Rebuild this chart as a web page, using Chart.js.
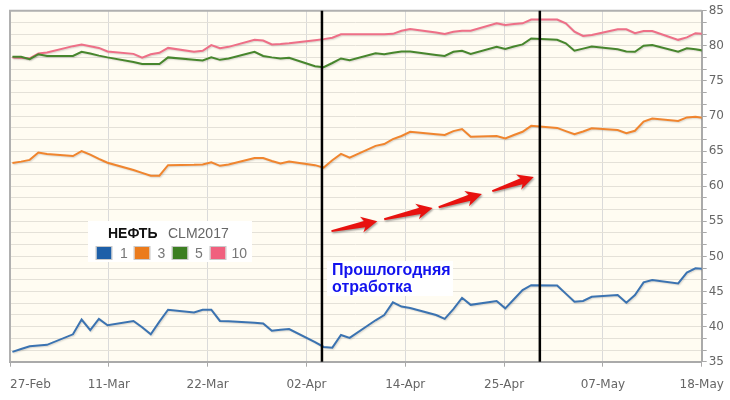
<!DOCTYPE html>
<html>
<head>
<meta charset="utf-8">
<script src="https://cdn.jsdelivr.net/npm/chart.js@4.4.1/dist/chart.umd.min.js"></script>
<style>
  html, body { margin: 0; padding: 0; background: #fff; }
  #wrap { position: relative; width: 730px; height: 400px; }
</style>
</head>
<body>
<div id="wrap"><canvas id="oilChart"></canvas></div>
<script>
// CLM2017 - trading days
const dates = [
  "2017-02-27", "2017-02-28", "2017-03-01", "2017-03-02", "2017-03-03",
  "2017-03-06", "2017-03-07", "2017-03-08", "2017-03-09", "2017-03-10",
  "2017-03-13", "2017-03-14", "2017-03-15", "2017-03-16", "2017-03-17",
  "2017-03-20", "2017-03-21", "2017-03-22", "2017-03-23", "2017-03-24",
  "2017-03-27", "2017-03-28", "2017-03-29", "2017-03-30", "2017-03-31",
  "2017-04-03", "2017-04-04", "2017-04-05", "2017-04-06", "2017-04-07",
  "2017-04-10", "2017-04-11", "2017-04-12", "2017-04-13", "2017-04-14",
  "2017-04-17", "2017-04-18", "2017-04-19", "2017-04-20", "2017-04-21",
  "2017-04-24", "2017-04-25", "2017-04-26", "2017-04-27", "2017-04-28",
  "2017-05-01", "2017-05-02", "2017-05-03", "2017-05-04", "2017-05-05",
  "2017-05-08", "2017-05-09", "2017-05-10", "2017-05-11", "2017-05-12",
  "2017-05-15", "2017-05-16", "2017-05-17", "2017-05-18"
];

const series1 = [
  36.4, 36.8, 37.2, 37.3, 37.4,
  38.9, 41.0, 39.5, 41.1, 40.2,
  40.8, 39.9, 38.9, 40.7, 42.4,
  42.0, 42.4, 42.4, 40.8, 40.75,
  40.55, 40.45, 39.4, 39.55, 39.65,
  37.8, 37.1, 37.0, 38.8, 38.4,
  40.9, 41.65, 43.45, 42.85, 42.65,
  41.65, 41.1, 42.5, 44.1, 43.1,
  43.65, 42.6, 43.9, 45.2, 45.9,
  45.85, 44.7, 43.55, 43.65, 44.25,
  44.5, 43.4, 44.5, 46.3, 46.65,
  46.15, 47.7, 48.3, 48.2
];
const series3 = [
  63.3, 63.5, 63.75, 64.8, 64.6,
  64.3, 65.0, 64.5, 63.9, 63.35,
  62.3, 61.9, 61.5, 61.5, 63.0,
  63.05, 63.1, 63.4, 62.9, 63.1,
  64.0, 64.0, 63.6, 63.25, 63.5,
  63.0, 62.65, 63.7, 64.6, 64.05,
  65.75, 66.0, 66.7, 67.15, 67.75,
  67.4, 67.3, 67.85, 68.15, 67.05,
  67.15, 66.8, 67.3, 67.75, 68.6,
  68.3, 67.85, 67.4, 67.8, 68.25,
  68.0, 67.55, 67.9, 69.2, 69.65,
  69.3, 69.8, 69.9, 69.7
];
const series5 = [
  78.45, 78.45, 78.1, 78.8, 78.55,
  78.55, 79.15, 78.9, 78.6, 78.35,
  77.7, 77.4, 77.4, 77.4, 78.35,
  78.0, 77.9, 78.35, 78.0, 78.2,
  79.15, 78.55, 78.35, 78.2, 78.3,
  77.1, 76.95, 77.55, 78.2, 77.95,
  78.95, 78.8, 79.0, 79.2, 79.2,
  78.7, 78.55, 79.15, 79.3, 78.85,
  79.85, 79.55, 79.9, 80.2, 81.05,
  80.85, 80.35, 79.3, 79.6, 79.9,
  79.5, 79.2, 79.15, 80.0, 80.1,
  79.15, 79.65, 79.5, 79.3
];
const series10 = [
  78.35, 78.3, 78.2, 78.9, 79.05,
  79.95, 80.2, 79.95, 79.7, 79.2,
  78.85, 78.3, 78.8, 79.0, 79.7,
  79.15, 79.3, 80.1, 79.65, 79.85,
  80.85, 80.75, 80.2, 80.25, 80.35,
  80.8, 80.95, 81.15, 81.65, 81.65,
  81.65, 81.65, 81.7, 82.15, 82.4,
  81.9, 81.7, 82.0, 82.15, 82.15,
  83.2, 82.95, 83.1, 83.2, 83.75,
  83.75, 83.2, 82.0, 81.4, 81.55,
  82.35, 82.35, 81.8, 82.1, 82.1,
  80.85, 81.2, 81.8, 81.7
];

const seriesNames = ["1", "3", "5", "10"];
const lineColors = ["#3b73b1", "#f0852e", "#47862d", "#ee6f87"];
const legendColors = ["#1d5fa8", "#eb7b1c", "#3c7f22", "#f0607e"];

const xTickLabels = ["27-Feb", "11-Mar", "22-Mar", "02-Apr", "14-Apr", "25-Apr", "07-May", "18-May"];
const yTickLabels = ["35", "40", "45", "50", "55", "60", "65", "70", "75", "80", "85"];

// vertical marker lines and arrows, in days from 27-Feb / price units
const markerDays = [35.8, 61.0];
const arrows = [
  [36.9, 53.6, 42.2, 55.0],
  [43.0, 55.3, 48.6, 56.9],
  [49.3, 57.0, 54.3, 58.9],
  [55.5, 59.3, 60.3, 61.3]
];
const noteLines = ["Прошлогодняя", "отработка"];

const X_MIN = -0.28, X_MAX = 79.72;
const Y_MIN = 35, Y_MAX = 85, Y_STEP = 5 / 3;

function dayOf(s) {
  return (Date.parse(s) - Date.parse(dates[0])) / 86400000;
}

const allSeries = [series1, series3, series5, series10];
const datasets = allSeries.map((vals, k) => ({
  label: seriesNames[k],
  data: dates.map((d, i) => ({ x: dayOf(d), y: vals[i] })),
  borderColor: lineColors[k],
  borderWidth: 2,
  pointRadius: 0,
  tension: 0,
  fill: false
}));

function drawArrow(ctx, x1, y1, x2, y2) {
  const ang = Math.atan2(y2 - y1, x2 - x1);
  const len = Math.hypot(x2 - x1, y2 - y1);
  ctx.save();
  ctx.translate(x1, y1);
  ctx.rotate(ang);
  ctx.beginPath();
  ctx.moveTo(0, -1);
  ctx.lineTo(len - 13, -3.2);
  ctx.lineTo(len - 16, -8);
  ctx.lineTo(len, 0);
  ctx.lineTo(len - 16, 8);
  ctx.lineTo(len - 13, 3.2);
  ctx.lineTo(0, 1);
  ctx.closePath();
  ctx.shadowColor = "rgba(0,0,0,0.35)";
  ctx.shadowOffsetX = 1;
  ctx.shadowOffsetY = 1.5;
  ctx.shadowBlur = 2;
  ctx.fillStyle = "#e8120f";
  ctx.fill();
  ctx.restore();
}

const overlayPlugin = {
  id: "overlay",
  beforeDraw(chart) {
    const { ctx, chartArea: a } = chart;
    ctx.save();
    ctx.fillStyle = "#fffcf2";
    ctx.fillRect(a.left, a.top, a.right - a.left, a.bottom - a.top);
    ctx.restore();
  },
  beforeDatasetDraw(chart) {
    const ctx = chart.ctx;
    ctx.save();
    ctx.shadowColor = "rgba(0,0,0,0.15)";
    ctx.shadowOffsetX = 1;
    ctx.shadowOffsetY = 1;
    ctx.shadowBlur = 1.5;
  },
  afterDatasetDraw(chart) {
    chart.ctx.restore();
  },
  afterDatasetsDraw(chart) {
    const { ctx, chartArea: a, scales } = chart;
    const xs = scales.x, ys = scales.y;
    ctx.save();

    // frame top / left
    ctx.strokeStyle = "#b0b0b0";
    ctx.lineWidth = 2;
    ctx.beginPath();
    ctx.moveTo(a.left, a.bottom);
    ctx.lineTo(a.left, a.top);
    ctx.lineTo(a.right, a.top);
    ctx.stroke();

    // black marker lines
    ctx.strokeStyle = "#000";
    ctx.lineWidth = 2.5;
    markerDays.forEach(d => {
      const x = xs.getPixelForValue(d);
      ctx.beginPath();
      ctx.moveTo(x, a.top);
      ctx.lineTo(x, a.bottom);
      ctx.stroke();
    });

    // arrows
    arrows.forEach(r => {
      drawArrow(ctx,
        xs.getPixelForValue(r[0]), ys.getPixelForValue(r[1]),
        xs.getPixelForValue(r[2]), ys.getPixelForValue(r[3]));
    });

    // legend box
    ctx.fillStyle = "#fff";
    ctx.fillRect(88, 221, 164, 41);
    ctx.textBaseline = "alphabetic";
    ctx.textAlign = "left";
    ctx.fillStyle = "#111";
    ctx.font = "bold 14px 'Liberation Sans', Arial, sans-serif";
    ctx.fillText("НЕФТЬ", 108, 237.5);
    ctx.fillStyle = "#666";
    ctx.font = "14px 'Liberation Sans', Arial, sans-serif";
    ctx.fillText("CLM2017", 168, 237.5);
    const boxX = [96.5, 134.5, 172.5, 210.5];
    const numX = [120, 157.5, 195, 231.5];
    seriesNames.forEach((n, k) => {
      ctx.fillStyle = legendColors[k];
      ctx.fillRect(boxX[k], 247, 15, 12);
      ctx.strokeStyle = "#c8c8c8";
      ctx.lineWidth = 1;
      ctx.strokeRect(boxX[k] - 0.5, 246.5, 16, 13);
      ctx.fillStyle = "#777";
      ctx.font = "14px 'Liberation Sans', Arial, sans-serif";
      ctx.fillText(n, numX[k], 258);
    });

    // note
    ctx.fillStyle = "#fff";
    ctx.fillRect(327, 261, 126, 35);
    ctx.fillStyle = "#1212ee";
    ctx.font = "bold 16px 'Liberation Sans', Arial, sans-serif";
    ctx.fillText(noteLines[0], 332, 275);
    ctx.fillText(noteLines[1], 332, 292);

    ctx.restore();
  },
  afterDraw(chart) {
    const { ctx, scales } = chart;
    const xs = scales.x;
    ctx.save();
    ctx.fillStyle = "#666";
    ctx.font = "12px 'DejaVu Sans', sans-serif";
    ctx.textBaseline = "middle";
    xs.ticks.forEach((t, i) => {
      ctx.textAlign = i === 0 ? "left" : "center";
      ctx.fillText(xTickLabels[i], xs.getPixelForValue(t.value), 385);
    });
    ctx.restore();
  }
};

new Chart(document.getElementById("oilChart"), {
  type: "line",
  data: { datasets: datasets },
  options: {
    responsive: true,
    maintainAspectRatio: false,
    animation: false,
    layout: { padding: { left: 10, top: 10.7, right: 0, bottom: 0 } },
    plugins: {
      legend: { display: false },
      tooltip: { enabled: false }
    },
    scales: {
      x: {
        type: "linear",
        min: X_MIN,
        max: X_MAX,
        afterBuildTicks: scale => {
          const n = xTickLabels.length;
          scale.ticks = xTickLabels.map((_, i) => ({ value: X_MIN + i * (X_MAX - X_MIN) / (n - 1) }));
        },
        afterFit: scale => { scale.height = 38.3; },
        ticks: { display: false },
        grid: { color: "#dadada", lineWidth: 1, tickLength: 5, tickColor: "#a8a8a8" },
        border: { color: "#aaaaaa", width: 2 }
      },
      y: {
        position: "right",
        min: Y_MIN,
        max: Y_MAX,
        afterBuildTicks: scale => {
          const ticks = [];
          for (let i = 0; i <= 30; i++) ticks.push({ value: Y_MIN + i * Y_STEP });
          scale.ticks = ticks;
        },
        afterFit: scale => { scale.width = 28.3; },
        ticks: {
          autoSkip: false,
          padding: 2,
          color: "#666",
          font: { family: "DejaVu Sans", size: 12 },
          callback: (v, i) => (i % 3 === 0 ? yTickLabels[i / 3] : "")
        },
        grid: { color: "#e4e1d8", lineWidth: 1, tickLength: 5, tickColor: "#a8a8a8" },
        border: { color: "#aaaaaa", width: 2 }
      }
    }
  },
  plugins: [overlayPlugin]
});
</script>
</body>
</html>
